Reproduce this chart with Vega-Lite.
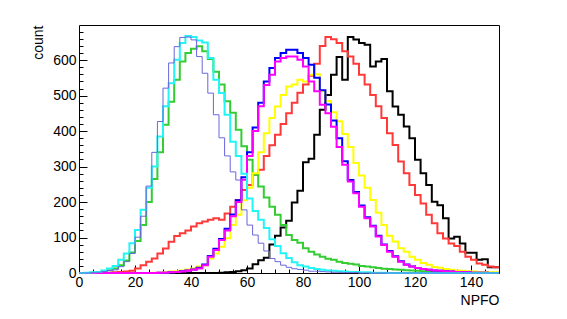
{
  "$schema": "https://vega.github.io/schema/vega-lite/v6.json",
  "width": 420,
  "height": 248,
  "autosize": {"type": "none"},
  "padding": {"left": 79, "top": 25, "right": 68, "bottom": 46},
  "background": "white",
  "config": {
    "view": {"stroke": "#000000", "strokeWidth": 1},
    "font": "Liberation Sans",
    "axis": {"labelFont": "Liberation Sans", "titleFont": "Liberation Sans", "labelColor": "#000", "titleColor": "#000", "tickColor": "#000", "grid": false, "domain": false}
  },
  "data": {"values": [
    {"x":0,"K":0,"R":0,"G":0,"B":0,"Y":0,"M":0,"C":0,"L":0},
    {"x":2,"K":0,"R":0,"G":0,"B":0,"Y":0,"M":0,"C":1,"L":0},
    {"x":4,"K":0,"R":0,"G":1,"B":0,"Y":0,"M":0,"C":2,"L":1},
    {"x":6,"K":0,"R":0,"G":2,"B":0,"Y":0,"M":0,"C":3,"L":2},
    {"x":8,"K":0,"R":1,"G":4,"B":0,"Y":0,"M":0,"C":7,"L":4},
    {"x":10,"K":0,"R":1,"G":8,"B":0,"Y":0,"M":0,"C":13,"L":7},
    {"x":12,"K":0,"R":2,"G":13,"B":0,"Y":0,"M":0,"C":20,"L":9},
    {"x":14,"K":0,"R":3,"G":22,"B":0,"Y":0,"M":0,"C":37,"L":18},
    {"x":16,"K":0,"R":4,"G":35,"B":0,"Y":0,"M":0,"C":55,"L":32},
    {"x":18,"K":0,"R":6,"G":58,"B":0,"Y":0,"M":0,"C":84,"L":55},
    {"x":20,"K":0,"R":13,"G":90,"B":0,"Y":0,"M":0,"C":121,"L":101},
    {"x":22,"K":0,"R":22,"G":135,"B":0,"Y":0,"M":0,"C":178,"L":160},
    {"x":24,"K":0,"R":32,"G":200,"B":0,"Y":0,"M":0,"C":240,"L":245},
    {"x":26,"K":0,"R":41,"G":265,"B":0,"Y":1,"M":0,"C":300,"L":340},
    {"x":28,"K":0,"R":55,"G":340,"B":1,"Y":1,"M":1,"C":385,"L":427},
    {"x":30,"K":0,"R":69,"G":418,"B":1,"Y":2,"M":1,"C":470,"L":521},
    {"x":32,"K":0,"R":88,"G":483,"B":2,"Y":4,"M":2,"C":535,"L":592},
    {"x":34,"K":0,"R":104,"G":545,"B":3,"Y":5,"M":3,"C":601,"L":638},
    {"x":36,"K":0,"R":112,"G":596,"B":5,"Y":7,"M":4,"C":648,"L":664},
    {"x":38,"K":0,"R":120,"G":620,"B":7,"Y":10,"M":6,"C":668,"L":665},
    {"x":40,"K":0,"R":131,"G":632,"B":10,"Y":13,"M":9,"C":665,"L":657},
    {"x":42,"K":0,"R":140,"G":639,"B":15,"Y":18,"M":13,"C":655,"L":610},
    {"x":44,"K":0,"R":145,"G":625,"B":24,"Y":22,"M":22,"C":650,"L":563},
    {"x":46,"K":0,"R":150,"G":603,"B":48,"Y":41,"M":46,"C":606,"L":507},
    {"x":48,"K":0,"R":154,"G":567,"B":68,"Y":55,"M":65,"C":545,"L":446},
    {"x":50,"K":1,"R":150,"G":531,"B":96,"Y":74,"M":93,"C":507,"L":381},
    {"x":52,"K":2,"R":168,"G":484,"B":125,"Y":98,"M":120,"C":446,"L":330},
    {"x":54,"K":3,"R":187,"G":452,"B":165,"Y":135,"M":160,"C":370,"L":285},
    {"x":56,"K":5,"R":206,"G":404,"B":205,"Y":164,"M":200,"C":330,"L":262},
    {"x":58,"K":8,"R":234,"G":357,"B":270,"Y":205,"M":263,"C":280,"L":178},
    {"x":60,"K":13,"R":248,"G":319,"B":340,"Y":240,"M":330,"C":210,"L":135},
    {"x":62,"K":25,"R":277,"G":277,"B":410,"Y":281,"M":400,"C":175,"L":107},
    {"x":64,"K":36,"R":291,"G":244,"B":480,"Y":340,"M":470,"C":150,"L":84},
    {"x":66,"K":43,"R":330,"G":213,"B":540,"Y":394,"M":530,"C":127,"L":62},
    {"x":68,"K":80,"R":360,"G":187,"B":578,"Y":437,"M":559,"C":95,"L":41},
    {"x":70,"K":105,"R":390,"G":164,"B":606,"Y":469,"M":596,"C":76,"L":32},
    {"x":72,"K":128,"R":420,"G":135,"B":620,"Y":502,"M":606,"C":56,"L":22},
    {"x":74,"K":147,"R":450,"G":107,"B":629,"Y":526,"M":610,"C":42,"L":16},
    {"x":76,"K":199,"R":480,"G":93,"B":629,"Y":531,"M":610,"C":30,"L":12},
    {"x":78,"K":232,"R":508,"G":85,"B":620,"Y":545,"M":601,"C":22,"L":10},
    {"x":80,"K":312,"R":531,"G":70,"B":606,"Y":540,"M":582,"C":18,"L":8},
    {"x":82,"K":322,"R":556,"G":60,"B":587,"Y":559,"M":540,"C":14,"L":5},
    {"x":84,"K":390,"R":590,"G":52,"B":550,"Y":560,"M":512,"C":11,"L":5},
    {"x":86,"K":460,"R":640,"G":46,"B":515,"Y":512,"M":474,"C":9,"L":4},
    {"x":88,"K":502,"R":665,"G":40,"B":475,"Y":485,"M":450,"C":7,"L":3},
    {"x":90,"K":559,"R":659,"G":37,"B":430,"Y":453,"M":412,"C":6,"L":2},
    {"x":92,"K":609,"R":648,"G":32,"B":380,"Y":428,"M":355,"C":5,"L":2},
    {"x":94,"K":545,"R":625,"G":28,"B":315,"Y":392,"M":305,"C":4,"L":1},
    {"x":96,"K":665,"R":610,"G":26,"B":262,"Y":355,"M":258,"C":3,"L":1},
    {"x":98,"K":658,"R":590,"G":24,"B":228,"Y":310,"M":225,"C":3,"L":1},
    {"x":100,"K":648,"R":559,"G":20,"B":190,"Y":275,"M":187,"C":2,"L":0},
    {"x":102,"K":643,"R":531,"G":18,"B":157,"Y":240,"M":154,"C":2,"L":0},
    {"x":104,"K":582,"R":502,"G":16,"B":133,"Y":206,"M":131,"C":1,"L":0},
    {"x":106,"K":596,"R":470,"G":14,"B":105,"Y":170,"M":103,"C":1,"L":0},
    {"x":108,"K":603,"R":437,"G":12,"B":80,"Y":135,"M":79,"C":1,"L":0},
    {"x":110,"K":512,"R":394,"G":11,"B":62,"Y":105,"M":60,"C":0,"L":0},
    {"x":112,"K":469,"R":361,"G":10,"B":47,"Y":89,"M":46,"C":0,"L":0},
    {"x":114,"K":446,"R":314,"G":9,"B":33,"Y":70,"M":32,"C":0,"L":0},
    {"x":116,"K":413,"R":281,"G":8,"B":24,"Y":60,"M":23,"C":0,"L":0},
    {"x":118,"K":380,"R":248,"G":7,"B":18,"Y":46,"M":18,"C":0,"L":0},
    {"x":120,"K":319,"R":220,"G":6,"B":14,"Y":37,"M":14,"C":0,"L":0},
    {"x":122,"K":281,"R":196,"G":5,"B":11,"Y":28,"M":11,"C":0,"L":0},
    {"x":124,"K":248,"R":164,"G":5,"B":9,"Y":23,"M":9,"C":0,"L":0},
    {"x":126,"K":201,"R":140,"G":4,"B":7,"Y":17,"M":7,"C":0,"L":0},
    {"x":128,"K":191,"R":112,"G":4,"B":6,"Y":15,"M":6,"C":0,"L":0},
    {"x":130,"K":154,"R":97,"G":3,"B":5,"Y":11,"M":5,"C":0,"L":0},
    {"x":132,"K":97,"R":83,"G":3,"B":4,"Y":9,"M":4,"C":0,"L":0},
    {"x":134,"K":102,"R":76,"G":2,"B":3,"Y":7,"M":3,"C":0,"L":0},
    {"x":136,"K":83,"R":60,"G":2,"B":2,"Y":6,"M":2,"C":0,"L":0},
    {"x":138,"K":57,"R":46,"G":2,"B":2,"Y":5,"M":2,"C":0,"L":0},
    {"x":140,"K":57,"R":37,"G":1,"B":1,"Y":4,"M":1,"C":0,"L":0},
    {"x":142,"K":37,"R":27,"G":1,"B":1,"Y":3,"M":1,"C":0,"L":0},
    {"x":144,"K":39,"R":23,"G":1,"B":1,"Y":3,"M":1,"C":0,"L":0},
    {"x":146,"K":16,"R":18,"G":1,"B":0,"Y":2,"M":0,"C":0,"L":0},
    {"x":148,"K":16,"R":16,"G":0,"B":0,"Y":2,"M":0,"C":0,"L":0},
    {"x":150,"K":16,"R":16,"G":0,"B":0,"Y":2,"M":0,"C":0,"L":0}
  ]},
  "resolve": {"axis": {"x": "independent", "y": "independent"}},
  "layer": [
    {
      "mark": {"type": "line", "interpolate": "step-after", "color": "#000000", "strokeWidth": 2},
      "encoding": {
        "x": {"field": "x", "type": "quantitative", "scale": {"domain": [0, 150], "nice": false, "zero": false},
          "axis": {"orient": "bottom", "values": [0,20,40,60,80,100,120,140], "tickSize": -8, "tickWidth": 1, "labelPadding": 10, "labelFontSize": 14, "labelFlush": false,
            "title": "NPFO", "titleFontSize": 14, "titleFontWeight": "normal", "titleAnchor": "end", "titleAlign": "right", "titleX": 420, "titleY": 31, "titleBaseline": "alphabetic"}},
        "y": {"field": "K", "type": "quantitative", "scale": {"domain": [0, 699], "nice": false},
          "axis": {"orient": "left", "values": [0,100,200,300,400,500,600], "tickSize": -8, "tickWidth": 1, "labelPadding": 11, "labelFontSize": 14, "labelFlush": false,
            "title": "count", "titleFontSize": 14, "titleFontWeight": "normal", "titleAngle": -90, "titleAlign": "right", "titleAnchor": "end", "titleX": -37, "titleY": 0, "titleBaseline": "alphabetic"}}
      }
    },
    {
      "mark": {"type": "line", "interpolate": "step-after", "color": "#ff3838", "strokeWidth": 2},
      "encoding": {
        "x": {"field": "x", "type": "quantitative",
          "axis": {"orient": "bottom", "values": [5,10,15,25,30,35,45,50,55,65,70,75,85,90,95,105,110,115,125,130,135,145,150], "tickSize": -4, "tickWidth": 1, "labels": false, "title": null}},
        "y": {"field": "R", "type": "quantitative",
          "axis": {"orient": "left", "values": [20,40,60,80,120,140,160,180,220,240,260,280,320,340,360,380,420,440,460,480,520,540,560,580,620,640,660,680], "tickSize": -4, "tickWidth": 1, "labels": false, "title": null}}
      }
    },
    {
      "mark": {"type": "line", "interpolate": "step-after", "color": "#33cc33", "strokeWidth": 2},
      "encoding": {"x": {"field": "x", "type": "quantitative", "axis": null}, "y": {"field": "G", "type": "quantitative", "axis": null}}
    },
    {
      "mark": {"type": "line", "interpolate": "step-after", "color": "#ffff00", "strokeWidth": 2},
      "encoding": {"x": {"field": "x", "type": "quantitative", "axis": null}, "y": {"field": "Y", "type": "quantitative", "axis": null}}
    },
    {
      "mark": {"type": "line", "interpolate": "step-after", "color": "#0000ff", "strokeWidth": 2},
      "encoding": {"x": {"field": "x", "type": "quantitative", "axis": null}, "y": {"field": "B", "type": "quantitative", "axis": null}}
    },
    {
      "mark": {"type": "line", "interpolate": "step-after", "color": "#ff00ff", "strokeWidth": 2},
      "encoding": {"x": {"field": "x", "type": "quantitative", "axis": null}, "y": {"field": "M", "type": "quantitative", "axis": null}}
    },
    {
      "mark": {"type": "line", "interpolate": "step-after", "color": "#22f5f5", "strokeWidth": 2},
      "encoding": {"x": {"field": "x", "type": "quantitative", "axis": null}, "y": {"field": "C", "type": "quantitative", "axis": null}}
    },
    {
      "mark": {"type": "line", "interpolate": "step-after", "color": "#6a66dc", "strokeWidth": 1},
      "encoding": {"x": {"field": "x", "type": "quantitative", "axis": null}, "y": {"field": "L", "type": "quantitative", "axis": null}}
    }
  ]
}
